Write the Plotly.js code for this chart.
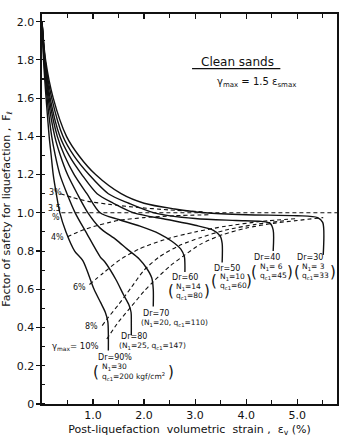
<!DOCTYPE html>
<html>
<head>
<meta charset="utf-8">
<script src="https://cdn.plot.ly/plotly-3.0.1.min.js"></script>
<style>html,body{margin:0;padding:0;background:#fff;}#chart{width:351px;height:439px;}</style>
</head>
<body>
<div id="chart"></div>
<script>
// ---- Solid curves: relative density Dr (%) ----
const dr90X = [0, 0.03, 0.08, 0.14, 0.18, 0.22, 0.28, 0.35, 0.47, 0.64, 0.80, 1.02, 1.15, 1.24, 1.29, 1.30, 1.30];
const dr90Y = [2.0, 1.8, 1.6, 1.4, 1.3, 1.2, 1.1, 1.0, 0.9, 0.8, 0.75, 0.6, 0.53, 0.48, 0.43, 0.36, 0.28];
const dr80X = [0, 0.04, 0.10, 0.19, 0.26, 0.35, 0.49, 0.65, 0.86, 1.14, 1.24, 1.45, 1.60, 1.70, 1.745, 1.75, 1.75];
const dr80Y = [2.0, 1.8, 1.6, 1.4, 1.3, 1.2, 1.1, 1.0, 0.9, 0.77, 0.74, 0.65, 0.57, 0.52, 0.48, 0.42, 0.36];
const dr70X = [0, 0.05, 0.12, 0.25, 0.36, 0.50, 0.69, 0.90, 1.14, 1.45, 1.67, 1.90, 2.05, 2.15, 2.18, 2.18];
const dr70Y = [2.0, 1.8, 1.6, 1.4, 1.3, 1.2, 1.1, 1.0, 0.92, 0.86, 0.81, 0.76, 0.71, 0.66, 0.60, 0.51];
const dr60X = [0, 0.05, 0.14, 0.30, 0.44, 0.63, 0.88, 1.14, 1.5, 1.92, 2.3, 2.55, 2.72, 2.79, 2.80, 2.80];
const dr60Y = [2.0, 1.8, 1.6, 1.4, 1.3, 1.2, 1.1, 1.0, 0.965, 0.93, 0.89, 0.85, 0.81, 0.77, 0.73, 0.69];
const dr50X = [0, 0.06, 0.16, 0.35, 0.53, 0.78, 1.08, 1.40, 1.8, 2.45, 3.0, 3.35, 3.49, 3.53, 3.53];
const dr50Y = [2.0, 1.8, 1.6, 1.4, 1.3, 1.2, 1.1, 1.05, 1.0, 0.965, 0.935, 0.91, 0.88, 0.84, 0.74];
const dr40X = [0, 0.06, 0.19, 0.41, 0.62, 0.92, 1.30, 1.70, 2.2, 3.0, 3.8, 4.3, 4.47, 4.53, 4.53];
const dr40Y = [2.0, 1.8, 1.6, 1.4, 1.3, 1.2, 1.1, 1.05, 1.0, 0.97, 0.96, 0.955, 0.945, 0.91, 0.80];
const dr30X = [0, 0.07, 0.22, 0.48, 0.72, 1.05, 1.55, 2.0, 2.6, 3.2, 4.0, 5.0, 5.40, 5.50, 5.51];
const dr30Y = [2.0, 1.8, 1.6, 1.4, 1.3, 1.2, 1.1, 1.05, 1.02, 1.0, 0.99, 0.985, 0.975, 0.95, 0.78];

// ---- Dashed curves: maximum shear strain gamma_max (%) ----
const g3X = [0.36, 0.6, 0.9, 1.3, 1.8, 2.5, 3.2];
const g3Y = [1.10, 1.08, 1.06, 1.045, 1.03, 1.015, 1.005];
const g35X = [0.38, 5.78];
const g35Y = [1.0, 1.0];
const g4X = [0.50, 0.8, 1.1, 1.5, 2.0, 2.6, 3.3];
const g4Y = [0.875, 0.91, 0.935, 0.96, 0.975, 0.985, 0.99];
const g6X = [0.93, 1.2, 1.53, 1.9, 2.4, 3.0, 3.6, 4.3, 5.0];
const g6Y = [0.625, 0.685, 0.755, 0.81, 0.86, 0.90, 0.93, 0.955, 0.97];
const g8X = [1.18, 1.29, 1.5, 1.75, 2.0, 2.3, 2.7, 3.1, 3.6, 4.2, 4.8];
const g8Y = [0.41, 0.45, 0.52, 0.61, 0.70, 0.77, 0.83, 0.87, 0.91, 0.94, 0.96];
const g10X = [1.27, 1.5, 1.75, 2.0, 2.18, 2.5, 2.80, 3.1, 3.53, 4.0, 4.53, 5.0, 5.51];
const g10Y = [0.34, 0.43, 0.51, 0.59, 0.64, 0.72, 0.78, 0.835, 0.885, 0.92, 0.945, 0.96, 0.975];

// ---- Tick labels ----
const xTickVals = [1, 2, 3, 4, 5];
const xTickText = ['1.0', '2.0', '3.0', '4.0', '5.0'];
const yTickVals = [0, 0.2, 0.4, 0.6, 0.8, 1.0, 1.2, 1.4, 1.6, 1.8, 2.0];
const yTickText = ['0', '0.2', '0.4', '0.6', '0.8', '1.0', '1.2', '1.4', '1.6', '1.8', '2.0'];

const FONT = 'DejaVu Sans';
const INK = '#111';

const solid = [[dr90X, dr90Y], [dr80X, dr80Y], [dr70X, dr70Y], [dr60X, dr60Y], [dr50X, dr50Y], [dr40X, dr40Y], [dr30X, dr30Y]];
const dashed = [[g3X, g3Y], [g35X, g35Y], [g4X, g4Y], [g6X, g6Y], [g8X, g8Y], [g10X, g10Y]];

const traces = [];
solid.forEach(([x, y]) => traces.push({
  x, y, type: 'scatter', mode: 'lines', hoverinfo: 'skip', showlegend: false,
  line: {color: INK, width: 1.4, shape: 'spline', smoothing: 0.8}
}));
dashed.forEach(([x, y]) => traces.push({
  x, y, type: 'scatter', mode: 'lines', hoverinfo: 'skip', showlegend: false,
  line: {color: INK, width: 1.1, dash: '4px,3px', shape: 'spline', smoothing: 0.7}
}));

function ann(x, y, text, size, xanchor) {
  return {x, y, xref: 'x', yref: 'y', text, showarrow: false,
    xanchor: xanchor || 'left', yanchor: 'middle', borderpad: 0,
    font: {family: FONT, size: size || 8, color: INK}};
}
const Q = 'q<sub>c1</sub>';
const N = 'N<sub>1</sub>';
const PS = 15;
const SM = 7.5;
const annotations = [
  ann(3.84, 1.79, 'Clean sands', 12, 'center'),
  ann(4.2, 1.68, 'γ<sub>max</sub> = 1.5 ε<sub>smax</sub>', 10, 'center'),
  // gamma labels
  ann(0.12, 1.105, '3%', 8),
  ann(0.10, 1.025, '3.5', 8),
  ann(0.17, 0.975, '%', 8),
  ann(0.16, 0.87, '4%', 8),
  ann(0.58, 0.61, '6%', 8),
  ann(0.83, 0.405, '8%', 8),
  ann(0.18, 0.30, 'γ<sub>max</sub>= 10%', 8.5),
  // Dr = 90
  ann(1.08, 0.245, 'Dr=90%', 8),
  ann(1.15, 0.196, N + '=30', SM),
  ann(1.15, 0.145, Q + '=200 kgf/cm<sup>2</sup>', SM),
  ann(1.06, 0.170, '(', PS, 'center'),
  ann(2.52, 0.170, ')', PS, 'center'),
  // Dr = 80
  ann(1.53, 0.351, 'Dr=80', 8),
  ann(1.49, 0.304, '(' + N + '=25, ' + Q + '=147)', SM),
  // Dr = 70
  ann(1.96, 0.476, 'Dr=70', 8),
  ann(1.92, 0.424, '(' + N + '=20, ' + Q + '=110)', SM),
  // Dr = 60
  ann(2.53, 0.66, 'Dr=60', 8),
  ann(2.61, 0.613, N + '=14', SM),
  ann(2.61, 0.565, Q + '=80', SM),
  ann(2.52, 0.59, '(', PS, 'center'),
  ann(3.23, 0.59, ')', PS, 'center'),
  // Dr = 50
  ann(3.35, 0.707, 'Dr=50', 8),
  ann(3.46, 0.665, N + '=10', SM),
  ann(3.46, 0.618, Q + '=60', SM),
  ann(3.37, 0.642, '(', PS, 'center'),
  ann(4.05, 0.642, ')', PS, 'center'),
  // Dr = 40
  ann(4.14, 0.764, 'Dr=40', 8),
  ann(4.25, 0.717, N + '= 6', SM),
  ann(4.25, 0.67, Q + '=45', SM),
  ann(4.15, 0.693, '(', PS, 'center'),
  ann(4.86, 0.693, ')', PS, 'center'),
  // Dr = 30
  ann(4.98, 0.764, 'Dr=30', 8),
  ann(5.08, 0.717, N + '= 3', SM),
  ann(5.08, 0.67, Q + '=33', SM),
  ann(4.99, 0.693, '(', PS, 'center'),
  ann(5.70, 0.693, ')', PS, 'center')
];

const layout = {
  width: 351, height: 439,
  margin: {l: 42, r: 14, t: 14, b: 35},
  paper_bgcolor: '#fff', plot_bgcolor: '#fff',
  font: {family: FONT, color: INK, size: 11},
  showlegend: false,
  xaxis: {
    range: [0, 5.78], tickmode: 'array', tickvals: xTickVals, ticktext: xTickText,
    ticks: 'inside', ticklen: 5, tickwidth: 1.2, tickcolor: INK,
    minor: {dtick: 0.5, tick0: 0, ticks: 'inside', ticklen: 4, tickwidth: 1.1, tickcolor: INK, showgrid: false},
    showline: true, linecolor: INK, linewidth: 1.6, mirror: 'allticks',
    showgrid: false, zeroline: false,
    tickfont: {family: FONT, size: 11, color: INK},
    title: {text: 'Post-liquefaction  volumetric  strain ,  ε<sub>v</sub> (%)', font: {family: FONT, size: 11, color: INK}, standoff: 4}
  },
  yaxis: {
    range: [0, 2.04], tickmode: 'array', tickvals: yTickVals, ticktext: yTickText,
    ticks: 'outside', ticklen: 4, tickwidth: 1.2, tickcolor: INK,
    minor: {dtick: 0.1, tick0: 0, ticks: 'inside', ticklen: 3, tickwidth: 1.1, tickcolor: INK, showgrid: false},
    showline: true, linecolor: INK, linewidth: 1.6, mirror: true,
    showgrid: false, zeroline: false,
    tickfont: {family: FONT, size: 11, color: INK},
    title: {text: 'Factor of safety for liquefaction ,  F<sub>ℓ</sub>', font: {family: FONT, size: 11, color: INK}, standoff: 5}
  },
  yaxis2: {
    overlaying: 'y', side: 'right', range: [0, 2.04], tickmode: 'array', tickvals: yTickVals,
    showticklabels: false, ticks: 'inside', ticklen: 4, tickwidth: 1.2, tickcolor: INK,
    showline: false, showgrid: false, zeroline: false
  },
  shapes: [
    {type: 'line', xref: 'x', yref: 'y', x0: 2.94, x1: 4.67, y0: 1.754, y1: 1.754, line: {color: INK, width: 1.3}}
  ],
  annotations
};

Plotly.newPlot('chart', traces, layout, {staticPlot: true, displayModeBar: false});
</script>
</body>
</html>
